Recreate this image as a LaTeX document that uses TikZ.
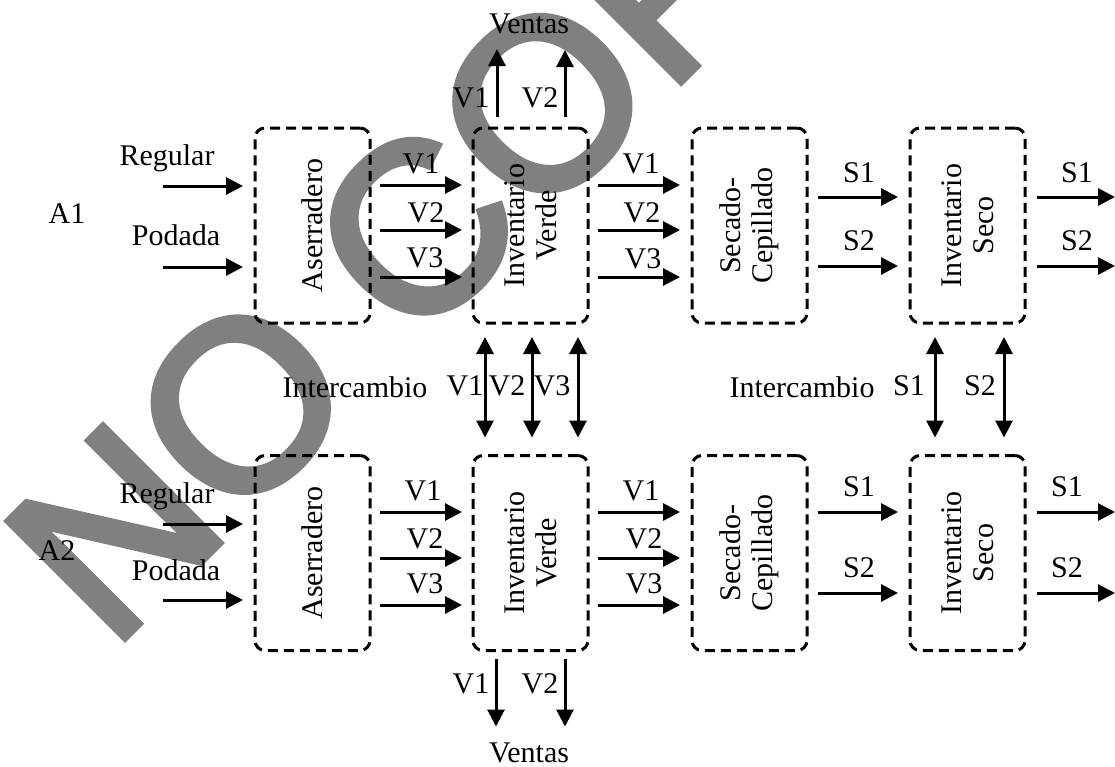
\documentclass[tikz,border=0pt]{standalone}
\usepackage{fontspec}
\setmainfont{Liberation Serif}
\newfontfamily\markfont[FakeBold=3]{Liberation Sans}
\usetikzlibrary{arrows.meta}

\begin{document}
\begin{tikzpicture}[x=1pt,y=1pt,
  every node/.style={font=\fontsize{30}{32}\selectfont, inner sep=0pt},
  stage/.style={draw, line width=3pt, dash pattern=on 10pt off 6pt,
    rounded corners=10pt, minimum width=115pt, minimum height=195pt, outer sep=0pt},
  tag/.style={rotate=90, align=center},
  lbl/.style={anchor=base},
  flow/.style={line width=3pt, -{Triangle[length=17pt,width=17pt]}},
  swap/.style={line width=3pt, {Triangle[length=17pt,width=17pt]}-{Triangle[length=17pt,width=17pt]}}]

\useasboundingbox (0,0) rectangle (1115,-766);

% watermark behind the flow chart
\begin{scope}
  \clip (0,0) rectangle (1115,-766);
  \node[rotate=45, text=gray, font={\markfont\fontsize{240}{240}\selectfont}] (mark) at (444,-202) {NO COPY};
\end{scope}

% ---------- stages, plant A1 ----------
\node[stage] (as1) at (312.5,-225.5) {};
\node[stage] (iv1) at (530.5,-225.5) {};
\node[stage] (sc1) at (749.5,-225.5) {};
\node[stage] (is1) at (967.5,-225.5) {};
\node[tag] (tas1) at (as1) {Aserradero};
\node[tag] (tiv1) at (iv1) {Inventario\\Verde};
\node[tag] (tsc1) at (sc1) {Secado-\\Cepillado};
\node[tag] (tis1) at (is1) {Inventario\\Seco};

% ---------- stages, plant A2 ----------
\node[stage] (as2) at (312.5,-553) {};
\node[stage] (iv2) at (530.5,-553) {};
\node[stage] (sc2) at (749.5,-553) {};
\node[stage] (is2) at (967.5,-553) {};
\node[tag] (tas2) at (as2) {Aserradero};
\node[tag] (tiv2) at (iv2) {Inventario\\Verde};
\node[tag] (tsc2) at (sc2) {Secado-\\Cepillado};
\node[tag] (tis2) at (is2) {Inventario\\Seco};

% ---------- raw material inputs ----------
\coordinate (reg1) at ([yshift=39.5pt, xshift=-92pt]as1.west);
\coordinate (pod1) at ([yshift=-41.5pt, xshift=-92pt]as1.west);
\coordinate (reg2) at ([yshift=29pt, xshift=-92pt]as2.west);
\coordinate (pod2) at ([yshift=-47pt, xshift=-92pt]as2.west);
\draw[flow, shorten >=12pt] (reg1) -- ([yshift=39.5pt]as1.west);
\draw[flow, shorten >=12pt] (pod1) -- ([yshift=-41.5pt]as1.west);
\draw[flow, shorten >=12pt] (reg2) -- ([yshift=29pt]as2.west);
\draw[flow, shorten >=12pt] (pod2) -- ([yshift=-47pt]as2.west);

\node[lbl] (a1) at (67,-223) {A1};
\node[lbl] (lreg1) at (167,-165) {Regular};
\node[lbl] (lpod1) at (176,-245) {Podada};
\node[lbl] (a2) at (57,-560) {A2};
\node[lbl] (lreg2) at (167,-503) {Regular};
\node[lbl] (lpod2) at (176,-580) {Podada};

% ---------- green lumber flows ----------
\foreach \d/\k in {40.5/1,-4.5/2,-51.5/3}{
  \draw[flow, shorten <=10pt, shorten >=11pt] ([yshift=\d pt]as1.east) -- ([yshift=\d pt]iv1.west);
  \draw[flow, shorten <=10pt, shorten >=12pt] ([yshift=\d pt]iv1.east) -- ([yshift=\d pt]sc1.west);
}
\foreach \d/\k in {41/1,-5/2,-52/3}{
  \draw[flow, shorten <=10pt, shorten >=11pt] ([yshift=\d pt]as2.east) -- ([yshift=\d pt]iv2.west);
  \draw[flow, shorten <=10pt, shorten >=12pt] ([yshift=\d pt]iv2.east) -- ([yshift=\d pt]sc2.west);
}
\node[lbl] at (421,-173) {V1};
\node[lbl] at (426,-222) {V2};
\node[lbl] at (425,-267) {V3};
\node[lbl] at (641,-173) {V1};
\node[lbl] at (642,-222) {V2};
\node[lbl] at (643,-268) {V3};
\node[lbl] at (423,-500) {V1};
\node[lbl] at (425,-548) {V2};
\node[lbl] at (425,-593) {V3};
\node[lbl] at (641,-500) {V1};
\node[lbl] at (644,-548) {V2};
\node[lbl] at (644,-593) {V3};

% ---------- dry lumber flows ----------
\foreach \d in {28.5,-40.5}{
  \draw[flow, shorten <=11pt, shorten >=12pt] ([yshift=\d pt]sc1.east) -- ([yshift=\d pt]is1.west);
  \draw[flow, shorten <=12pt] ([yshift=\d pt]is1.east) -- ++(90,0);
}
\foreach \d in {41,-40}{
  \draw[flow, shorten <=11pt, shorten >=12pt] ([yshift=\d pt]sc2.east) -- ([yshift=\d pt]is2.west);
  \draw[flow, shorten <=12pt] ([yshift=\d pt]is2.east) -- ++(90,0);
}
\node[lbl] at (859,-182) {S1};
\node[lbl] at (859,-250) {S2};
\node[lbl] at (1077,-182) {S1};
\node[lbl] at (1077,-250) {S2};
\node[lbl] at (859,-496) {S1};
\node[lbl] at (859,-577) {S2};
\node[lbl] at (1067,-496) {S1};
\node[lbl] at (1067,-577) {S2};

% ---------- sales ----------
\draw[flow, shorten <=11pt] ([xshift=-33.5pt]iv1.north) -- ++(0,79);
\draw[flow, shorten <=11pt] ([xshift=34.5pt]iv1.north) -- ++(0,78);
\node[lbl] (vt1) at (529,-33) {Ventas};
\node[lbl] at (471,-107) {V1};
\node[lbl] at (540,-107) {V2};

\draw[flow, shorten <=8pt] ([xshift=-34.5pt]iv2.south) -- ++(0,-76);
\draw[flow, shorten <=8pt] ([xshift=34.5pt]iv2.south) -- ++(0,-76);
\node[lbl] (vt2) at (529,-762) {Ventas};
\node[lbl] at (471,-693) {V1};
\node[lbl] at (540,-693) {V2};

% ---------- exchange between plants ----------
\foreach \d in {-45.5,1.5,47.5}{
  \draw[swap, shorten <=14pt, shorten >=18pt] ([xshift=\d pt]iv1.south) -- ([xshift=\d pt]iv2.north);
}
\foreach \d in {-32.5,36.5}{
  \draw[swap, shorten <=14pt, shorten >=18pt] ([xshift=\d pt]is1.south) -- ([xshift=\d pt]is2.north);
}
\node[lbl] at (355,-397) {Intercambio};
\node[lbl] at (465,-395) {V1};
\node[lbl] at (507,-395) {V2};
\node[lbl] at (552,-395) {V3};
\node[lbl] at (802,-397) {Intercambio};
\node[lbl] at (909,-395) {S1};
\node[lbl] at (980,-395) {S2};
\end{tikzpicture}
\end{document}
